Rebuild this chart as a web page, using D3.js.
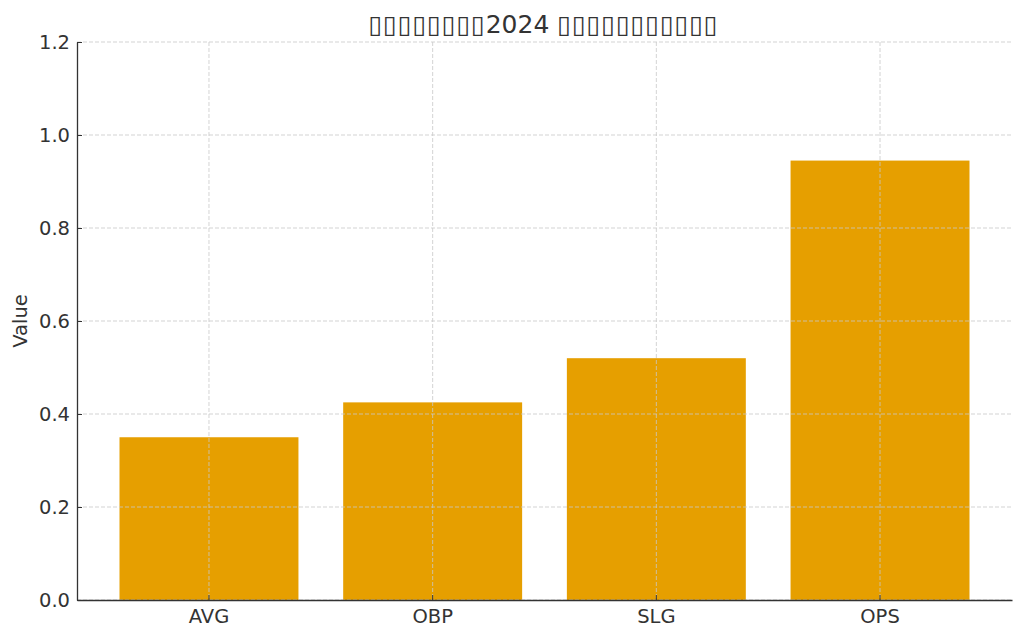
<!DOCTYPE html>
<html>
<head>
<meta charset="utf-8">
<script src="https://cdn.jsdelivr.net/npm/d3@7"></script>
<style>
  body { margin: 0; background: #fff; }
  text { font-family: 'DejaVu Sans', sans-serif; fill: #333; }
</style>
</head>
<body>
<svg width="1024" height="638"></svg>
<script>
//## DATA ##
// title glyphs are unreadable in the reference (missing-glyph boxes), kept as boxes
const titleParts = ['\u25AF\u25AF\u25AF\u25AF\u25AF\u25AF\u25AF\u25AF', '2024 ', '\u25AF\u25AF\u25AF\u25AF\u25AF\u25AF\u25AF\u25AF\u25AF\u25AF\u25AF']
const stats = ['AVG', 'OBP', 'SLG', 'OPS']
const values = [0.350, 0.425, 0.520, 0.945]
const yTicks = [0.0, 0.2, 0.4, 0.6, 0.8, 1.0, 1.2]

//## SIZE ##
const svg = d3.select('svg')
const margin = { left: 77, right: 12, top: 42, bottom: 38 }
const width = 1024
const height = 638
const innerWidth = width - margin.left - margin.right
const innerHeight = height - margin.top - margin.bottom

const g = svg.append('g').attr('transform', 'translate(' + margin.left + ',' + margin.top + ')')

//-- Scales --
const scaleX = d3.scaleBand()
  .domain(stats)
  .range([0, innerWidth])
  .paddingInner(0.2)
  .paddingOuter(0.19)

const scaleY = d3.scaleLinear()
  .domain([0, 1.2])
  .range([innerHeight, 0])

//-- Bars --
g.selectAll('.bar').data(stats)
  .enter().append('rect')
    .attr('class', 'bar')
    .attr('x', d => scaleX(d))
    .attr('y', (d, i) => scaleY(values[i]))
    .attr('width', scaleX.bandwidth())
    .attr('height', (d, i) => scaleY(0) - scaleY(values[i]))
    .attr('fill', '#E69F00')

//-- Grid (on top of bars like matplotlib) --
const grid = g.append('g').attr('class', 'grid')
grid.selectAll('.hgrid').data(yTicks)
  .enter().append('line')
    .attr('x1', 0).attr('x2', innerWidth)
    .attr('y1', d => scaleY(d)).attr('y2', d => scaleY(d))
grid.selectAll('.vgrid').data(stats)
  .enter().append('line')
    .attr('x1', d => scaleX(d) + scaleX.bandwidth() / 2)
    .attr('x2', d => scaleX(d) + scaleX.bandwidth() / 2)
    .attr('y1', 0).attr('y2', innerHeight)
grid.selectAll('line')
  .attr('stroke', '#c8c8c8')
  .attr('stroke-width', 0.8)
  .attr('stroke-dasharray', '4,2')

//-- Axes --
const yAxisGroup = g.append('g')
  .call(d3.axisLeft(scaleY).tickValues(yTicks).tickFormat(d3.format('.1f')).tickSizeInner(-5).tickSizeOuter(0).tickPadding(7))
const xAxisGroup = g.append('g')
  .attr('transform', 'translate(0,' + innerHeight + ')')
  .call(d3.axisBottom(scaleX).tickSizeInner(-5).tickSizeOuter(0).tickPadding(9))

g.selectAll('.domain').attr('stroke', '#333').attr('stroke-width', 1.3)
g.selectAll('.tick line').attr('stroke', '#333').attr('stroke-width', 1)
g.selectAll('.tick text').style('font-size', '19.5px').attr('fill', '#333')
  .style('font-family', "'DejaVu Sans', sans-serif")

// y axis name
svg.append('text')
  .attr('transform', 'translate(27,' + (margin.top + innerHeight / 2) + ') rotate(-90)')
  .attr('text-anchor', 'middle')
  .style('font-size', '19.5px')
  .text('Value')

// title
const title = svg.append('text')
  .attr('x', margin.left + innerWidth / 2 - 1)
  .attr('y', 33)
  .attr('text-anchor', 'middle')
  .style('font-size', '25px')
title.selectAll('tspan').data(titleParts)
  .enter().append('tspan')
    .style('letter-spacing', (d, i) => i === 1 ? '0px' : '0.9px')
    .text(d => d)
</script>
</body>
</html>
